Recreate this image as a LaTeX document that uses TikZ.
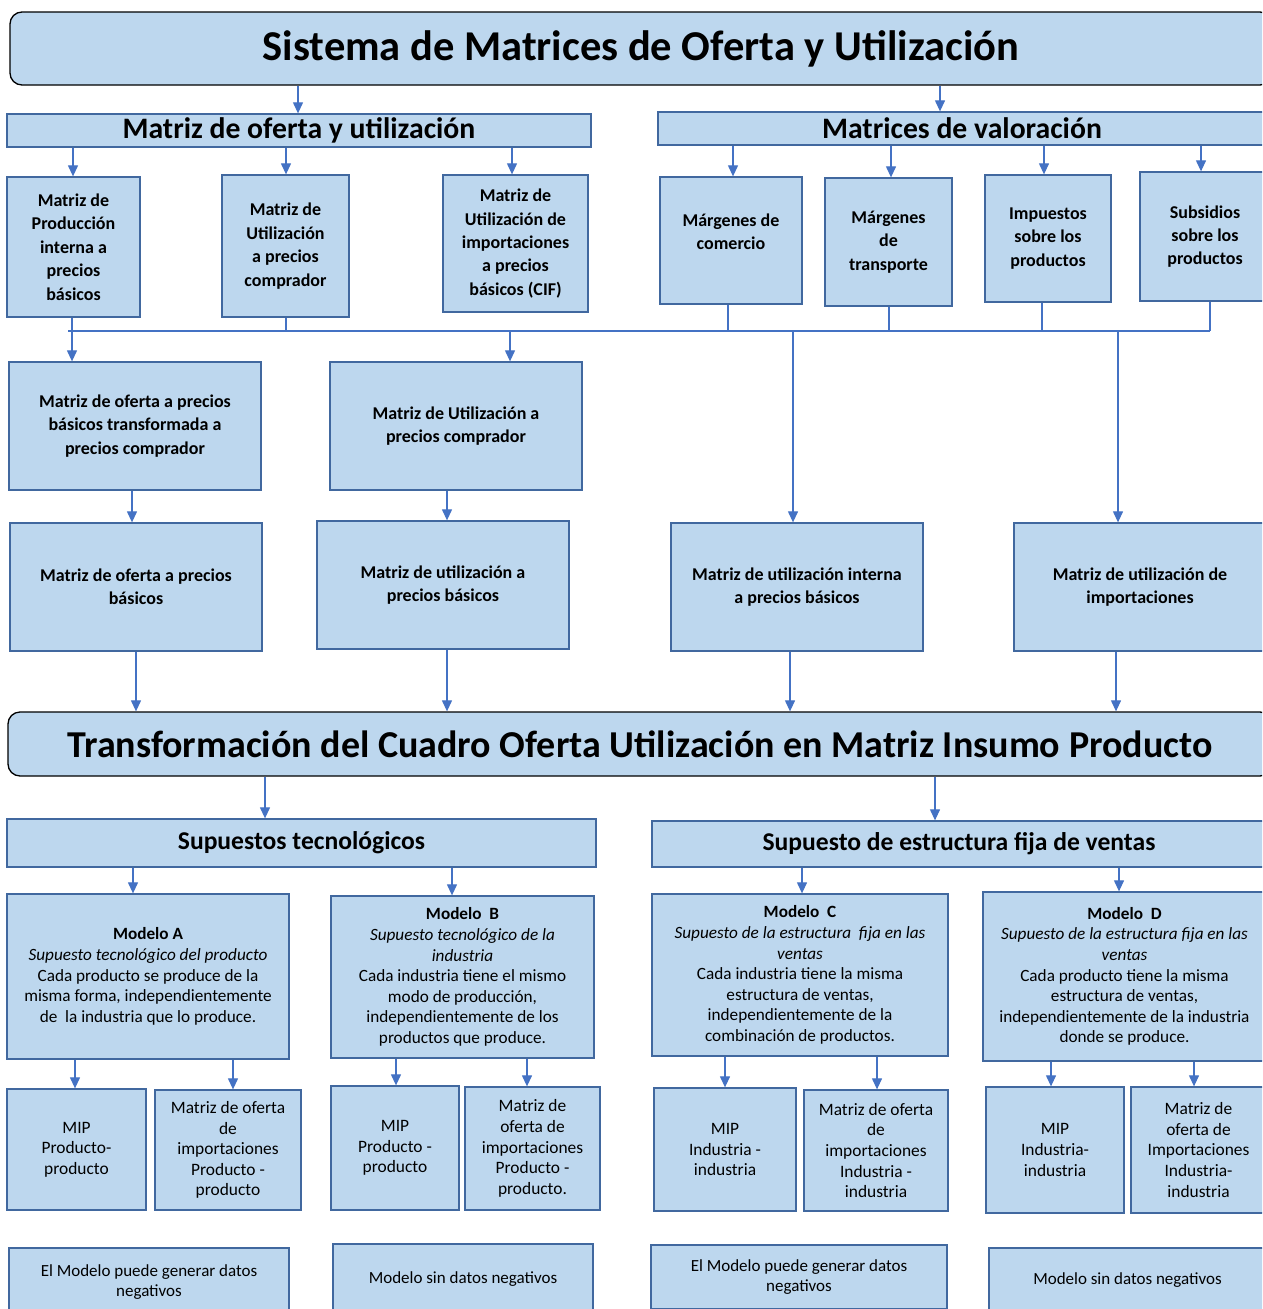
\documentclass[tikz,border=0pt]{standalone}
\usepackage{fontspec}
\setmainfont{Carlito}
\usetikzlibrary{arrows.meta}
\definecolor{boxfill}{HTML}{BDD7EE}
\definecolor{boxline}{HTML}{41689F}
\definecolor{arrcol}{HTML}{4472C4}
\begin{document}
\begin{tikzpicture}[x=1pt, y=-1pt,
	box/.style={draw=boxline, fill=boxfill, line width=1.3pt, align=center, inner sep=2pt},
	bigbox/.style={box, draw=black, rounded corners=12pt, font=\fontsize{42.5}{48}\selectfont\bfseries},
	head/.style={box, font=\fontsize{29.7}{34}\selectfont\bfseries},
	subhead/.style={box, font=\fontsize{25.6}{30}\selectfont\bfseries},
	matbox/.style={box, font=\fontsize{18}{23.4}\selectfont\bfseries},
	modbox/.style={box, font=\fontsize{17.2}{20.6}\selectfont},
	smallbox/.style={box, font=\fontsize{17.4}{20.6}\selectfont},
	notebox/.style={box, font=\fontsize{17}{20}\selectfont},
	link/.style={draw=arrcol, line width=1.2pt},
	arr/.style={link, -{Triangle[width=10pt,length=11pt]}}]
	\useasboundingbox (0,0) rectangle (1262,1309);
	\clip (0,0) rectangle (1262,1309);

	% encabezado
	\node[bigbox, minimum width=1262, minimum height=73] (title) at (641,48.5)
		{Sistema de Matrices de Oferta y Utilización};
	\node[head, minimum width=584, minimum height=33] (moyu) at (299,130.5) {Matriz de oferta y utilización};
	\node[head, minimum width=608, minimum height=33] (valor) at (962,128.5) {Matrices de valoración};

	% matrices de oferta y utilizacion
	\node[matbox, minimum width=133, minimum height=140] (prodint) at (73.5,247)
		{Matriz de\\Producción\\interna a\\precios\\básicos};
	\node[matbox, minimum width=127, minimum height=142] (utilpc) at (285.5,246)
		{Matriz de\\Utilización\\a precios\\comprador};
	\node[matbox, minimum width=145, minimum height=137] (utilimp) at (515.5,243.5)
		{Matriz de\\Utilización de\\importaciones\\a precios\\básicos (CIF)};

	% matrices de valoracion
	\node[matbox, minimum width=142, minimum height=127] (mcom) at (731,240.5) {Márgenes de\\comercio\\[-6pt]};
	\node[matbox, minimum width=127, minimum height=128] (mtra) at (888.5,242) {Márgenes\\de\\transporte};
	\node[matbox, minimum width=126, minimum height=127] (mimp) at (1048,238.5) {Impuestos\\sobre los\\productos};
	\node[matbox, minimum width=130, minimum height=129] (msub) at (1205,236.5) {Subsidios\\sobre los\\productos};

	\node[matbox, minimum width=252, minimum height=128] (ofertapc) at (135,426)
		{Matriz de oferta a precios\\básicos transformada a\\precios comprador};
	\node[matbox, minimum width=252, minimum height=128] (utilpc2) at (456,426)
		{Matriz de Utilización a\\precios comprador};
	\node[matbox, minimum width=252, minimum height=128] (ofertapb) at (136,587)
		{Matriz de oferta a precios\\básicos};
	\node[matbox, minimum width=252, minimum height=128] (utilpb) at (443,585)
		{Matriz de utilización a\\precios básicos};
	\node[matbox, minimum width=252, minimum height=128] (utilint) at (797,587)
		{Matriz de utilización interna\\a precios básicos};
	\node[matbox, minimum width=252, minimum height=128] (utilimpb) at (1140,587)
		{Matriz de utilización de\\importaciones};

	% transformacion
	\node[bigbox, font=\fontsize{38}{44}\selectfont\bfseries, minimum width=1264, minimum height=64] (transf) at (640,744)
		{Transformación del Cuadro Oferta Utilización en Matriz Insumo Producto};
	\node[subhead, minimum width=589, minimum height=48] (suptec) at (301.5,843) {Supuestos tecnológicos};
	\node[subhead, minimum width=614, minimum height=46] (supest) at (959,844) {Supuesto de estructura fija de ventas};

	% modelos
	\node[modbox, minimum width=282, minimum height=165] (modA) at (148,976.5)
		{\textbf{Modelo A}\\\textit{Supuesto tecnológico del producto}\\Cada producto se produce de la\\misma forma, independientemente\\de\ \ la industria que lo produce.};
	\node[modbox, minimum width=263, minimum height=162] (modB) at (462.5,977)
		{\textbf{Modelo\ \ B}\\\textit{Supuesto tecnológico de la}\\\textit{industria}\\Cada industria tiene el mismo\\modo de producción,\\independientemente de los\\productos que produce.};
	\node[modbox, minimum width=296, minimum height=162] (modC) at (800,975)
		{\textbf{Modelo\ \ C}\\\textit{Supuesto de la estructura\ \ fija en las}\\\textit{ventas}\\Cada industria tiene la misma\\estructura de ventas,\\independientemente de la\\combinación de productos.};
	\node[modbox, minimum width=283, minimum height=169] (modD) at (1124.5,976.5)
		{\textbf{Modelo\ \ D}\\\textit{Supuesto de la estructura fija en las}\\\textit{ventas}\\Cada producto tiene la misma\\estructura de ventas,\\independientemente de la industria\\donde se produce.};

	\node[smallbox, minimum width=139, minimum height=121] (mipA) at (76.5,1149.5) {MIP\\Producto-\\producto};
	\node[smallbox, minimum width=146, minimum height=120] (impA) at (228,1150)
		{Matriz de oferta\\de\\importaciones\\Producto -\\producto};
	\node[smallbox, minimum width=128, minimum height=124] (mipB) at (395,1148) {MIP\\Producto -\\producto};
	\node[smallbox, minimum width=135, minimum height=123] (impB) at (532.5,1148.5)
		{Matriz de\\oferta de\\importaciones\\Producto -\\producto.};
	\node[smallbox, minimum width=142, minimum height=123] (mipC) at (725,1149.5) {MIP\\Industria -\\industria};
	\node[smallbox, minimum width=144, minimum height=121] (impC) at (876,1150.5)
		{Matriz de oferta\\de\\importaciones\\Industria -\\industria};
	\node[smallbox, minimum width=138, minimum height=126] (mipD) at (1055,1150) {MIP\\Industria-\\industria};
	\node[smallbox, minimum width=135, minimum height=126] (impD) at (1198.5,1150)
		{Matriz de\\oferta de\\Importaciones\\Industria-\\industria};

	\node[notebox, minimum width=280, minimum height=68] (botA) at (149,1282) {El Modelo puede generar datos\\negativos};
	\node[notebox, minimum width=260, minimum height=70] (botB) at (463,1279) {Modelo sin datos negativos};
	\node[notebox, minimum width=296, minimum height=64] (botC) at (799,1277) {El Modelo puede generar datos\\negativos};
	\node[notebox, minimum width=277, minimum height=64] (botD) at (1127.5,1280) {Modelo sin datos negativos};

	% flechas
	\foreach \src/\dst/\xx in {title/moyu/298, title/valor/940,
		moyu/prodint/73, moyu/utilpc/286, moyu/utilimp/512,
		valor/mcom/733, valor/mtra/891, valor/mimp/1044, valor/msub/1201,
		ofertapc/ofertapb/132, utilpc2/utilpb/447,
		ofertapb/transf/136, utilpb/transf/447, utilint/transf/790, utilimpb/transf/1116,
		transf/suptec/265, transf/supest/935,
		suptec/modA/133, suptec/modB/452, supest/modC/802, supest/modD/1119,
		modA/mipA/75, modA/impA/233, modB/mipB/396, modB/impB/527,
		modC/mipC/725, modC/impC/877, modD/mipD/1051, modD/impD/1194}
		\draw[arr] (\src.south -| \xx,0) -- (\dst.north -| \xx,0);

	% barra de enlace
	\coordinate (busL) at (68,331);
	\coordinate (busR) at (1210,331);
	\draw[link] (busL) -- (busR);
	\foreach \src/\xx in {utilpc/286, mcom/728, mtra/889, mimp/1042, msub/1210}
		\draw[link] (\src.south -| \xx,0) -- (busL -| \xx,0);
	\draw[arr] (prodint.south -| 72,0) -- (ofertapc.north -| 72,0);
	\draw[arr] (busL -| 510,0) -- (utilpc2.north -| 510,0);
	\draw[arr] (busL -| 793,0) -- (utilint.north -| 793,0);
	\draw[arr] (busL -| 1118,0) -- (utilimpb.north -| 1118,0);
\end{tikzpicture}
\end{document}
